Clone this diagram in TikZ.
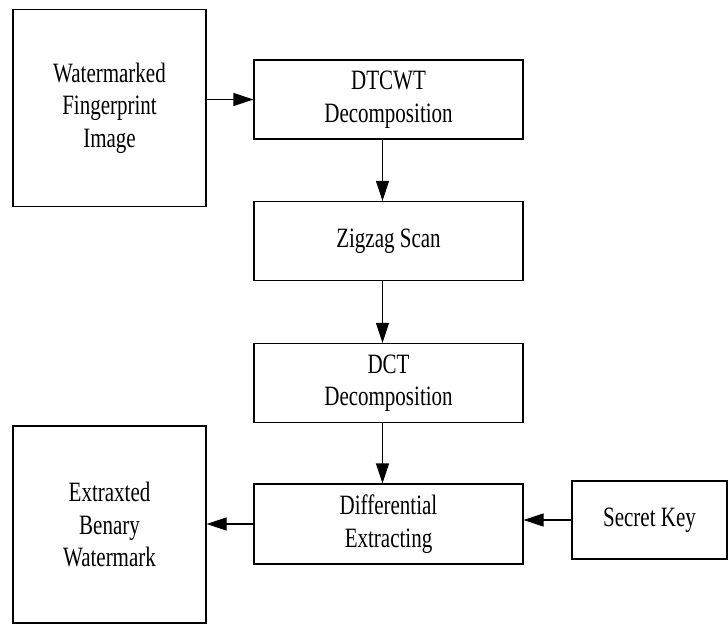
\documentclass[tikz,border=0pt]{standalone}
\usepackage{fontspec}
\setmainfont{Liberation Serif}[FakeStretch=0.75]
\usetikzlibrary{arrows.meta}

\begin{document}
\begin{tikzpicture}[
        x=1pt,y=-1pt,
        every node/.style={draw,fill=white,line width=1.2pt,inner sep=0pt,align=center,
            font=\fontsize{28}{32.5}\selectfont},
        stage/.style={minimum width=269pt,minimum height=79pt},
        big/.style={minimum width=193pt,minimum height=197pt},
        ->,>={Triangle[length=20pt,width=13pt]},line width=1.2pt
    ]
        \useasboundingbox (0,0) rectangle (728,624);

        \node[big] (img) at (109.5,108) {Watermarked\\Fingerprint\\Image};
        \node[stage] (dtcwt) at (388.5,99.5) {DTCWT\\Decomposition};
        \node[stage] (zigzag) at (388.5,241) {Zigzag Scan};
        \node[stage] (dct) at (388.5,383) {DCT\\Decomposition};
        \node[stage,minimum height=80pt] (diff) at (388.5,524) {Differential\\Extracting};
        \node[minimum width=155pt,minimum height=78pt] (key) at (649.5,520) {Secret Key};
        \node[big] (wm) at (109.5,524.5) {Extraxted\\Benary\\Watermark};

        \draw (img.east |- dtcwt.west) -- (dtcwt.west);
        \draw ([xshift=-6pt]dtcwt.south) -- ([xshift=-6pt]zigzag.north);
        \draw ([xshift=-6pt]zigzag.south) -- ([xshift=-6pt]dct.north);
        \draw ([xshift=-6pt]dct.south) -- ([xshift=-6pt]diff.north);
        \draw (key.west) -- (key.west -| diff.east);
        \draw (diff.west) -- (diff.west -| wm.east);
    \end{tikzpicture}
\end{document}
